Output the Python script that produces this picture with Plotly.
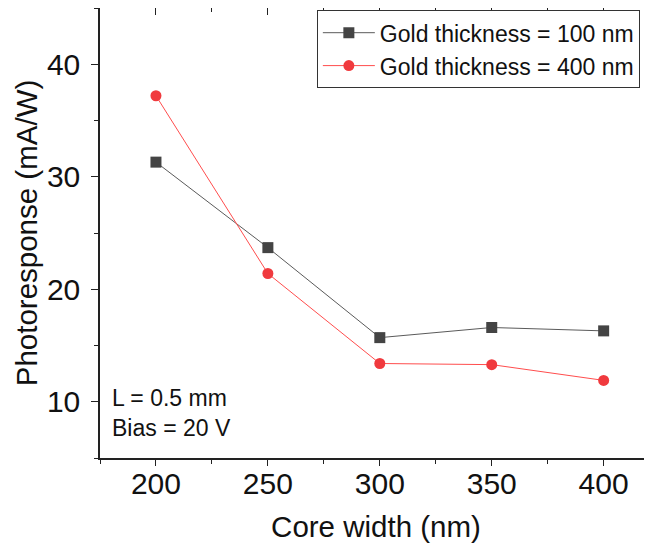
import plotly.graph_objects as go

core_width = [200, 250, 300, 350, 400]
resp_100nm = [31.3, 23.7, 15.7, 16.6, 16.3]
resp_400nm = [37.2, 21.4, 13.4, 13.3, 11.9]
series_names = ["Gold thickness = 100 nm", "Gold thickness = 400 nm"]
x_ticks = [200, 250, 300, 350, 400]
y_ticks = [10, 20, 30, 40]

FONT = "Liberation Sans, Arial, sans-serif"

fig = go.Figure()
fig.add_trace(go.Scatter(
    x=core_width, y=resp_100nm, name=series_names[0], mode="lines+markers",
    line=dict(color="#5a5a5a", width=1),
    marker=dict(symbol="square", size=11, color="#444444"),
))
fig.add_trace(go.Scatter(
    x=core_width, y=resp_400nm, name=series_names[1], mode="lines+markers",
    line=dict(color="#ff4d4d", width=1),
    marker=dict(symbol="circle", size=11, color="#f03a3e"),
))
# invisible trace to carry the top (mirrored) axis
fig.add_trace(go.Scatter(x=core_width, y=resp_100nm, mode="none", xaxis="x2",
                         showlegend=False, hoverinfo="skip"))

x_range = [175, 421.6]
fig.update_layout(
    width=644, height=542,
    margin=dict(l=92, r=0, t=0, b=92),
    paper_bgcolor="white", plot_bgcolor="white",
    font=dict(family=FONT, color="#111111"),
    xaxis=dict(
        range=x_range, tickvals=x_ticks, ticktext=[str(v) for v in x_ticks],
        showline=True, linecolor="#222222", linewidth=1.5,
        ticks="outside", ticklen=6, tickwidth=1.2, tickcolor="#222222",
        minor=dict(dtick=25, tick0=175, ticks="outside", ticklen=4, tickcolor="#222222"),
        showgrid=False, zeroline=False, automargin=False,
        tickfont=dict(size=30, family=FONT), ticklabelstandoff=-8,
        title=dict(text="Core width (nm)", font=dict(size=29.5, family=FONT), standoff=18),
    ),
    xaxis2=dict(
        overlaying="x", side="top", anchor="y", range=x_range,
        tickvals=x_ticks, showticklabels=False, automargin=False,
        showline=True, linecolor="#222222", linewidth=1.5,
        ticks="inside", ticklen=7, tickwidth=1.2, tickcolor="#222222",
        minor=dict(dtick=25, tick0=175, ticks="inside", ticklen=4, tickcolor="#222222"),
        showgrid=False, zeroline=False,
    ),
    yaxis=dict(
        range=[5, 45], tickvals=y_ticks, ticktext=[str(v) for v in y_ticks],
        showline=True, linecolor="#222222", linewidth=1.5,
        ticks="outside", ticklen=7, tickwidth=1.2, tickcolor="#222222",
        minor=dict(dtick=5, tick0=5, ticks="outside", ticklen=4, tickcolor="#222222"),
        showgrid=False, zeroline=False, automargin=False,
        tickfont=dict(size=30, family=FONT), ticklabelstandoff=5,
        title=dict(text="Photoresponse (mA/W)", font=dict(size=29.5, family=FONT), standoff=1),
    ),
    legend=dict(
        x=0.978, y=0.995, xanchor="right", yanchor="top",
        bgcolor="white", bordercolor="#333333", borderwidth=1,
        font=dict(size=23, family=FONT, color="#111111"),
        tracegroupgap=0, itemwidth=52,
    ),
    showlegend=True,
    annotations=[dict(
        text="L = 0.5 mm<br>Bias = 20 V", xref="paper", yref="paper",
        x=0.018, y=0.099, xanchor="left", yanchor="middle", align="left",
        showarrow=False, font=dict(size=23, family=FONT, color="#111111"),
    )],
)

fig.write_html("out.html")
